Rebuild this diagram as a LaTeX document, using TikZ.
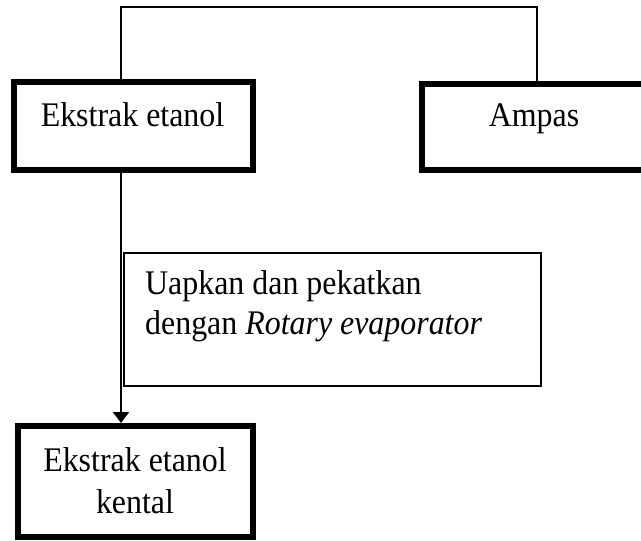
\documentclass[tikz,border=0pt]{standalone}
\usepackage{fontspec}
\setmainfont{Liberation Serif}
\usetikzlibrary{arrows.meta}
\begin{document}
\begin{tikzpicture}[x=1pt,y=-1pt,
  thickbox/.style={draw=black,line width=6pt,inner sep=0pt,outer sep=0pt,fill=none},
  thinbox/.style={draw=black,line width=2pt,inner sep=0pt,outer sep=0pt},
  lbl/.style={inner sep=0pt,xscale=0.925,font=\fontsize{34.5}{40}\selectfont},
  conn/.style={line width=2pt}]
\useasboundingbox (0,0) rectangle (641,541);
\clip (0,0) rectangle (641,541);
\fill[white] (0,0) rectangle (641,541);
% boxes
\node[thickbox,minimum width=239pt,minimum height=88pt] (e1) at (133.5,126) {};
\node[thickbox,minimum width=258pt,minimum height=86pt] (am) at (551,127) {};
\node[thinbox,minimum width=417pt,minimum height=133pt] (up) at (332.5,319.5) {};
\node[thickbox,minimum width=235pt,minimum height=111pt] (ek) at (135.5,481.5) {};
% texts
\node[lbl,anchor=base] (e1t) at (132.5,126) {Ekstrak etanol};
\node[lbl,anchor=base] (amt) at (534,126) {Ampas};
\node[lbl,anchor=base west] (u1) at (145,294) {Uapkan dan pekatkan};
\node[lbl,anchor=base west] (u2) at (145,334) {dengan \textit{Rotary evaporator}};
\node[lbl,anchor=base] (k1) at (135,471) {Ekstrak etanol};
\node[lbl,anchor=base] (k2) at (135,513) {kental};
% connectors
\coordinate (t1) at (121,7);
\coordinate (t2) at (537,7);
\draw[conn] (e1.north -| t1) -- (t1) -- (t2) -- (am.north -| t2);
\draw[conn,-{Triangle[width=16pt,length=11pt]},shorten >=3pt] (e1.south -| t1) -- (ek.north -| t1);
\end{tikzpicture}
\end{document}
